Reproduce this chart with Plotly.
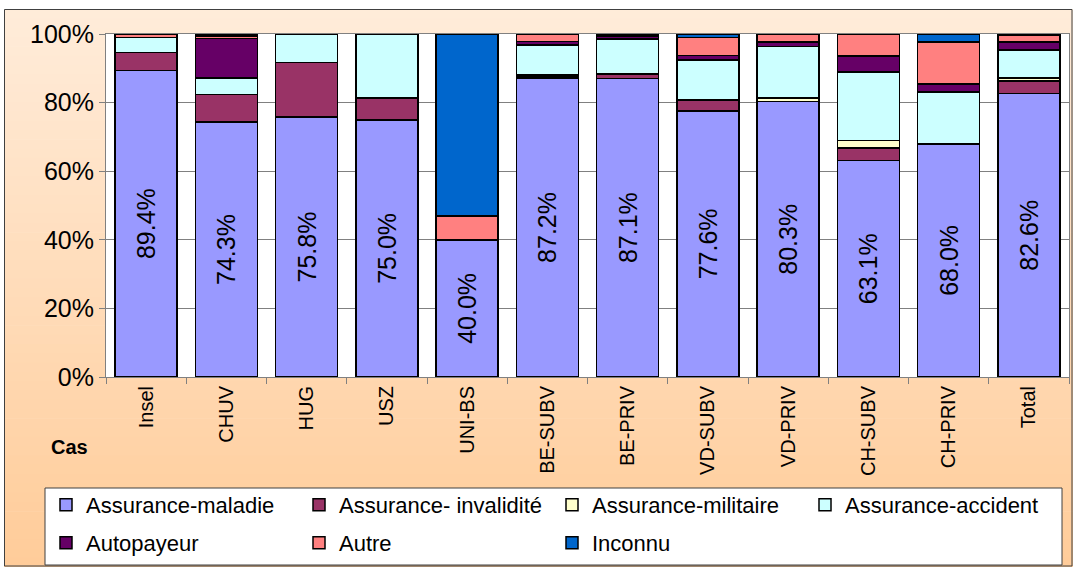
import plotly.graph_objects as go

categories = ["Insel", "CHUV", "HUG", "USZ", "UNI-BS", "BE-SUBV", "BE-PRIV",
              "VD-SUBV", "VD-PRIV", "CH-SUBV", "CH-PRIV", "Total"]

maladie    = [89.4, 74.3, 75.8, 75.0, 40.0, 87.2, 87.1, 77.6, 80.3, 63.1, 68.0, 82.6]
invalidite = [5.2, 8.1, 15.9, 6.3, 0, 0.5, 1.2, 3.2, 0, 3.7, 0, 3.7]
militaire  = [0, 0, 0, 0, 0, 0.3, 0, 0, 1.0, 2.2, 0, 0.9]
accident   = [4.4, 4.8, 8.3, 18.7, 0, 8.8, 10.2, 11.6, 15.0, 19.9, 15.1, 8.1]
autopayeur = [0, 11.5, 0, 0, 0, 1.0, 0.7, 1.3, 1.3, 4.7, 2.3, 2.3]
autre      = [1.0, 0.7, 0, 0, 7.0, 2.2, 0.4, 5.3, 2.4, 6.4, 12.3, 2.0]
inconnu    = [0, 0.6, 0, 0, 53.0, 0, 0.4, 1.0, 0, 0, 2.3, 0.4]

series_names = ["Assurance-maladie", "Assurance- invalidité", "Assurance-militaire",
                "Assurance-accident", "Autopayeur", "Autre", "Inconnu"]
series_values = [maladie, invalidite, militaire, accident, autopayeur, autre, inconnu]
series_colors = ["#9999FF", "#993366", "#FFFFCC", "#CCFFFF", "#660066", "#FF8080", "#0066CC"]
# which legend box each series goes to (row 1: three + one, row 2: three)
series_legend = ["legend", "legend", "legend", "legend2", "legend3", "legend3", "legend3"]

W, H = 1073, 567
L, R, T, B = 106, 4, 34, 190
PW, PH = W - L - R, H - T - B


def px2x(px):
    return (px - L) / PW


def px2y(py):
    return (H - B - py) / PH


FONT = "Liberation Sans, Arial, sans-serif"

fig = go.Figure()
for i, (name, vals, col, lg) in enumerate(zip(series_names, series_values,
                                               series_colors, series_legend)):
    ys = [v if v else None for v in vals]
    kw = {}
    if i == 0:
        kw = dict(text=[f"{v:.1f}%" for v in vals], textposition="inside",
                  insidetextanchor="middle", textangle=-90,
                  textfont=dict(size=25, color="black", family=FONT),
                  constraintext="none")
    fig.add_trace(go.Bar(x=categories, y=ys, name=name, legend=lg,
                         marker=dict(color=col, line=dict(color="black", width=1.5)),
                         hoverinfo="x+y+name", **kw))

# gradient background via stripes
shapes = []
top_c = (255, 236, 218)
bot_c = (255, 204, 153)
y0p, y1p = 9, 567
n = 60
for k in range(n):
    a = y0p + (y1p - y0p) * k / n
    b = y0p + (y1p - y0p) * (k + 1) / n
    t = (k + 0.5) / n
    c = tuple(round(top_c[j] + (bot_c[j] - top_c[j]) * t) for j in range(3))
    shapes.append(dict(type="rect", xref="paper", yref="paper", layer="below",
                       x0=px2x(4), x1=px2x(1073), y0=px2y(b + 0.6), y1=px2y(a),
                       fillcolor="rgb(%d,%d,%d)" % c, line=dict(width=0)))
shapes.append(dict(type="rect", xref="paper", yref="paper", layer="below",
                   x0=0, x1=1, y0=0, y1=1, fillcolor="white", line=dict(width=0)))
# legend box
shapes.append(dict(type="rect", xref="paper", yref="paper", layer="below",
                   x0=px2x(45), x1=px2x(1062), y0=px2y(565), y1=px2y(488),
                   fillcolor="white", line=dict(color="#404040", width=1)))
# outer chart border
shapes.append(dict(type="rect", xref="paper", yref="paper", layer="above",
                   x0=px2x(4.5), x1=px2x(1072), y0=px2y(566), y1=px2y(9.5),
                   fillcolor="rgba(0,0,0,0)", line=dict(color="#404040", width=1)))

leg_common = dict(orientation="h", xref="container", yref="container",
                  xanchor="left", yanchor="middle",
                  bgcolor="rgba(0,0,0,0)", borderwidth=0,
                  font=dict(size=22, family=FONT, color="black"),
                  entrywidth=208, entrywidthmode="pixels", traceorder="normal")

COLW = 253
LX = 46
fig.update_layout(
    width=W, height=H,
    margin=dict(l=L, r=R, t=T, b=B, pad=0, autoexpand=False),
    paper_bgcolor="white", plot_bgcolor="white",
    barmode="stack", bargap=0.227,
    font=dict(family=FONT, color="black"),
    shapes=shapes,
    showlegend=True,
    legend=dict(x=LX / W, y=1 - 505 / H, **leg_common),
    legend2=dict(x=(LX + 3 * COLW) / W, y=1 - 505 / H, **leg_common),
    legend3=dict(x=LX / W, y=1 - 543 / H, **leg_common),
    annotations=[dict(text="<b>Cas</b>", xref="paper", yref="paper",
                      x=px2x(69), y=px2y(447), xanchor="center", yanchor="middle",
                      showarrow=False,
                      font=dict(size=20, family=FONT, color="black"))],
)
fig.update_yaxes(range=[0, 100], dtick=20, ticksuffix="%", showgrid=True,
                 gridcolor="#808080", gridwidth=1, ticks="outside", ticklen=6,
                 tickcolor="#808080", showline=True, linecolor="#808080", mirror=True,
                 tickfont=dict(size=25, family=FONT, color="black"), zeroline=False,
                 automargin=False)
fig.update_xaxes(tickangle=-90, ticks="outside", ticklen=6, tickcolor="#808080",
                 tickson="boundaries", showline=True, linecolor="#808080", mirror=True,
                 tickfont=dict(size=20, family=FONT, color="black"), automargin=False)

fig.write_html("out.html", config={"displayModeBar": False},
               post_script="document.body.style.margin='0';document.body.style.overflow='hidden';")
